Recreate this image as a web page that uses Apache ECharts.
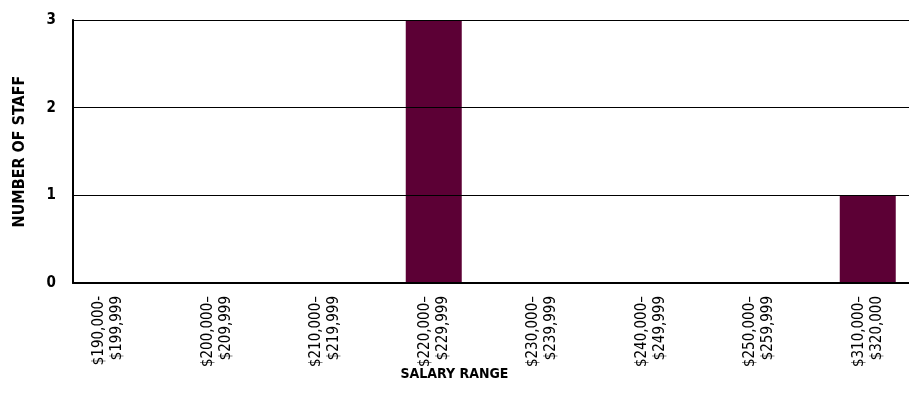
<!DOCTYPE html>
<html>
<head>
<meta charset="utf-8">
<script src="https://cdn.jsdelivr.net/npm/echarts@6/dist/echarts.min.js"></script>
<style>
  html, body { margin: 0; padding: 0; background: #fff; }
  #main { width: 909px; height: 405px; }
</style>
</head>
<body>
<div id="main"></div>
<script>
var categories = [
    "$190,000-\n$199,999",
    "$200,000–\n$209,999",
    "$210,000–\n$219,999",
    "$220,000–\n$229,999",
    "$230,000–\n$239,999",
    "$240,000–\n$249,999",
    "$250,000–\n$259,999",
    "$310,000–\n$320,000"
];
var staffCounts = [0, 0, 0, 3, 0, 0, 0, 1];
var yTicks = [0, 1, 2, 3];

var labelFont = "'DejaVu Sans Condensed', 'Liberation Sans Narrow', sans-serif";

var myChart = echarts.init(document.getElementById("main"));

var option = {
    animation: false,
    title: {
        text: 'SALARY RANGE',
        left: 'center',
        top: 362,
        textStyle: { fontFamily: labelFont, fontWeight: 'bold', fontSize: 14, color: '#000' }
    },
    grid: [
        // bars and category labels (bands start left of the y axis, like the original)
        { left: 54, width: 868, top: 20, bottom: 122, outerBoundsMode: 'none' },
        // axis lines and gridlines
        { left: 73, right: 0, top: 20, bottom: 122, outerBoundsMode: 'none' }
    ],
    xAxis: [
        {
            gridIndex: 0,
            type: 'category',
            data: categories,
            axisLine: { show: false },
            axisTick: { show: false },
            axisLabel: {
                rotate: 90,
                margin: 13,
                fontFamily: labelFont,
                fontSize: 15,
                lineHeight: 18,
                color: '#000'
            }
        },
        {
            gridIndex: 1,
            type: 'value',
            min: 0,
            max: 1,
            axisLabel: { show: false },
            axisTick: { show: false },
            splitLine: { show: false },
            axisLine: { show: true, lineStyle: { color: '#000', width: 2 } },
            z: 5
        }
    ],
    yAxis: [
        {
            gridIndex: 0,
            type: 'value',
            min: 0,
            max: 3,
            show: false
        },
        {
            gridIndex: 1,
            type: 'value',
            min: 0,
            max: 3,
            interval: 1,
            name: 'NUMBER OF STAFF',
            nameLocation: 'middle',
            nameGap: 45,
            nameTextStyle: { fontFamily: labelFont, fontWeight: 'bold', fontSize: 16, color: '#000' },
            axisLine: { show: true, onZero: false, lineStyle: { color: '#000', width: 2 } },
            axisTick: { show: false },
            splitLine: { show: true, lineStyle: { color: '#000', width: 1 } },
            axisLabel: {
                margin: 17,
                fontFamily: labelFont,
                fontWeight: 'bold',
                fontSize: 15,
                color: '#000',
                formatter: function (v) { return yTicks.indexOf(v) >= 0 ? String(v) : ''; }
            },
            z: 5
        }
    ],
    series: [
        {
            name: 'Number of staff',
            type: 'bar',
            xAxisIndex: 0,
            yAxisIndex: 0,
            data: staffCounts,
            barWidth: 56,
            itemStyle: { color: '#5c0035' }
        }
    ]
};

myChart.setOption(option);
</script>
</body>
</html>
